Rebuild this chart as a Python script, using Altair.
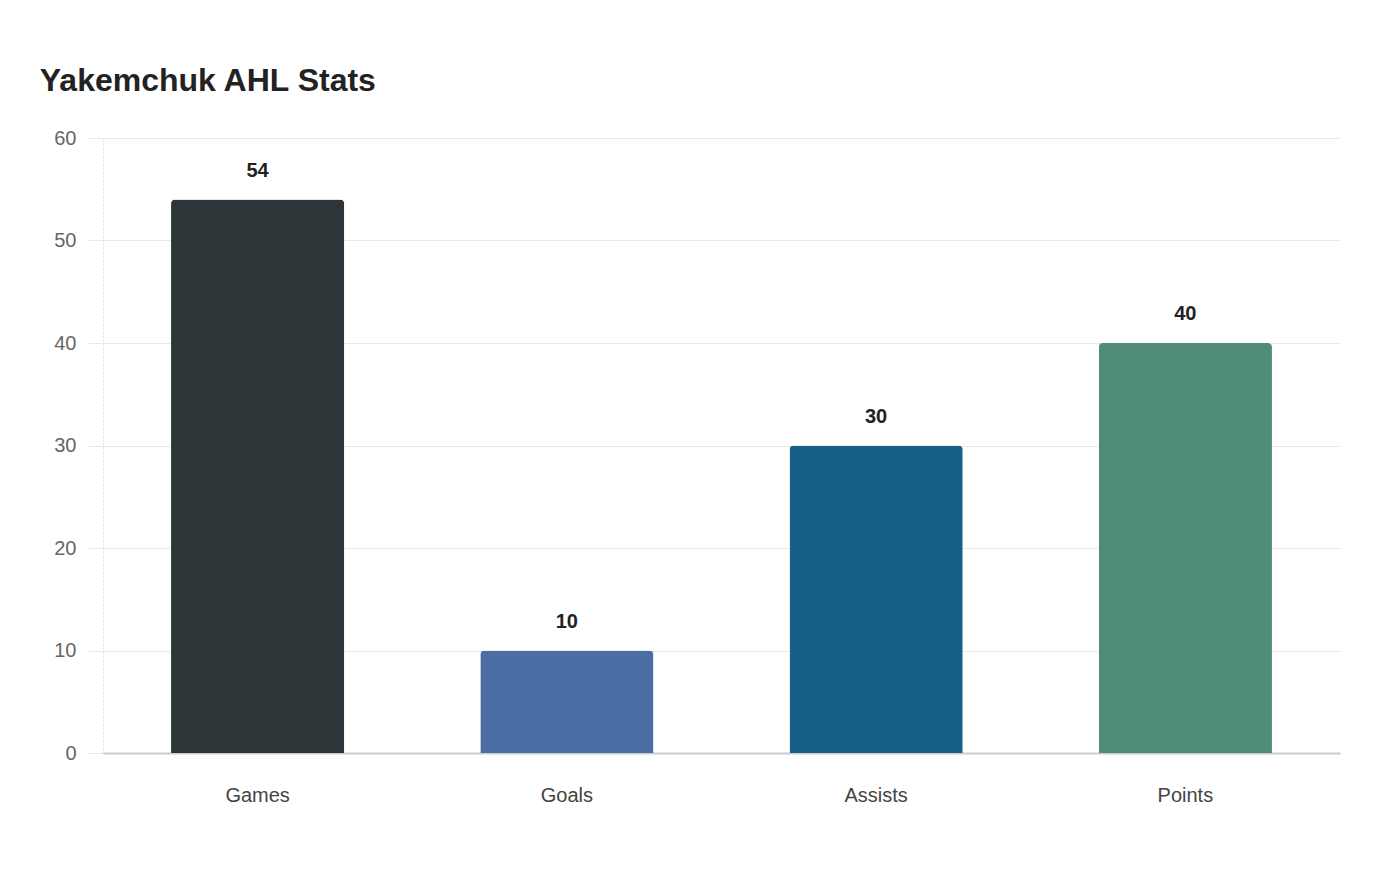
import altair as alt
import pandas as pd

categories = ["Games", "Goals", "Assists", "Points"]
values = [54, 10, 30, 40]
colors = ["#2d3538", "#4a6ea4", "#166088", "#4f8c7a"]

df = pd.DataFrame({"stat": categories, "value": values})

x = alt.X("stat:N", sort=categories, title=None,
          scale=alt.Scale(paddingInner=0, paddingOuter=0),
          axis=alt.Axis(labelAngle=0, labelFont="Liberation Sans", labelFontSize=20,
                        labelColor="#444444", labelPadding=32, ticks=False,
                        domainColor="#cccccc", domainWidth=2))
y = alt.Y("value:Q", title=None,
          scale=alt.Scale(domain=[0, 60], nice=False),
          axis=alt.Axis(values=[0, 10, 20, 30, 40, 50, 60], labelFont="Liberation Sans",
                        labelFontSize=20, labelColor="#666666", labelPadding=12,
                        tickSize=15, tickColor="#e8e8e8", gridColor="#e8e8e8",
                        domainColor="#dddddd", domainDash=[2, 2]))

bars = alt.Chart(df).mark_bar(cornerRadiusTopLeft=4, cornerRadiusTopRight=4,
                              width=alt.RelativeBandSize(0.56)).encode(
    x=x, y=y,
    color=alt.Color("stat:N", sort=categories,
                    scale=alt.Scale(domain=categories, range=colors), legend=None))

labels = alt.Chart(df).mark_text(font="Liberation Sans", fontSize=20, fontWeight="bold",
                                 color="#222222", baseline="alphabetic", dy=-23).encode(
    x=alt.X("stat:N", sort=categories), y="value:Q", text="value:Q")

chart = alt.layer(bars, labels).properties(
    width=1237, height=615,
    title=alt.TitleParams("Yakemchuk AHL Stats", anchor="start", font="Liberation Sans",
                          fontSize=32, fontWeight="bold", color="#222222",
                          dx=-14, offset=30),
    autosize=alt.AutoSizeParams(type="none"),
    padding={"left": 103, "top": 138, "right": 60, "bottom": 127},
).configure_view(stroke=None)

chart.save("out.html", embed_options={"renderer": "svg", "actions": False})
